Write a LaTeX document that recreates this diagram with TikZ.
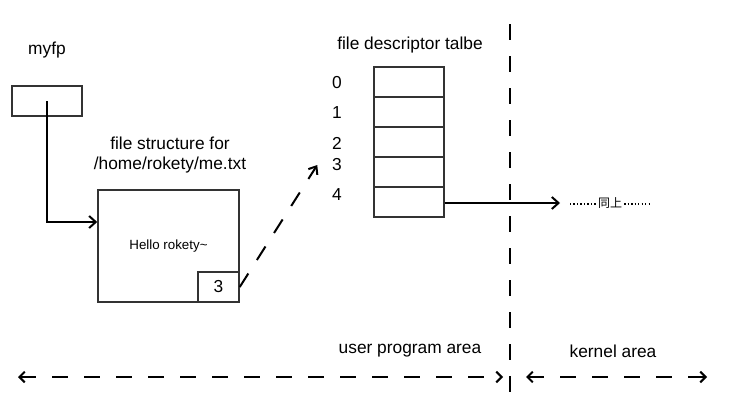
\documentclass[tikz,border=0pt]{standalone}
\usepackage{fontspec}
\setmainfont{Liberation Sans}
\newfontfamily\cjk{Noto Sans CJK SC}
\usetikzlibrary{arrows.meta}
\definecolor{boxgray}{HTML}{333333}
\begin{document}
\begin{tikzpicture}[x=0.75pt,y=-0.75pt,
  lbl/.style={font=\fontsize{13}{15}\selectfont, inner sep=0pt},
  box/.style={draw=boxgray, line width=1.1pt, fill=white, inner sep=0pt},
  arr/.style={line width=1.5pt, -{Straight Barb[length=5pt,width=9pt,line width=1.5pt]}},
  dash16/.style={line width=1.5pt, dash pattern=on 12pt off 12pt},
  darr/.style={dash16, {Straight Barb[length=4pt,width=8pt,line width=1.5pt]}-{Straight Barb[length=4pt,width=8pt,line width=1.5pt]}}
]
\useasboundingbox (0,0) rectangle (731,418);
% labels
\node[lbl] (myfp) at (47,50) {myfp};
\node[lbl, align=center] (fslabel) at (170,155) {file structure for\\/home/rokety/me.txt};
\node[lbl] (fdt) at (410,45) {file descriptor talbe};
\node[lbl] (upa) at (410,351) {user program area};
\node[lbl] (ka) at (613,351) {kernel area};
% myfp box
\node[box, minimum width=52.5pt, minimum height=22.5pt] (myfpbox) at (47,101) {};
% file structure box
\node[box, minimum width=105.75pt, minimum height=84pt, font=\fontsize{10}{12}\selectfont] (filebox) at (168.5,246) {Hello rokety\char`~};
\node[box, minimum width=30.75pt, minimum height=22.5pt, font=\fontsize{13}{15}\selectfont] (fd3) at (218.5,287) {3};
% table
\foreach \i/\y in {0/82,1/112,2/142,3/172,4/202}{
  \node[box, minimum width=52.5pt, minimum height=22.5pt] (r\i) at (409,\y) {};
}
\node[lbl] (n0) at (337,83) {0};
\node[lbl] (n1) at (337,113) {1};
\node[lbl] (n2) at (337,143) {2};
\node[lbl] (n3) at (337,165) {3};
\node[lbl] (n4) at (337,195) {4};
% 同上
\node[inner sep=0pt, font=\cjk\fontsize{9}{10}\selectfont] (same) at (610,203) {同上};
\coordinate (dl) at (570,204);
\coordinate (dr) at (650,204);
\draw[line width=1pt, dash pattern=on 1pt off 1.6pt] (dl) -- ([xshift=-1.5pt]same.west |- dl);
\draw[line width=1pt, dash pattern=on 1pt off 1.6pt] ([xshift=1.5pt]same.east |- dr) -- (dr);
% arrows
\draw[arr] (myfpbox.center) |- ([yshift=18pt]filebox.west);
\coordinate (tip) at (560,203);
\draw[arr] (r4.east |- tip) -- (tip);
\draw[dash16, -{Straight Barb[length=5pt,width=8pt,line width=1.5pt]}] (fd3.east) -- ([xshift=-11pt]n3.west);
% separators
\coordinate (vtop) at (510,24);
\coordinate (vbot) at (510,393);
\draw[dash16] (vtop) -- (vbot);
\coordinate (bl1) at (18,377);
\coordinate (br1) at (503,377);
\coordinate (bl2) at (526,377);
\coordinate (br2) at (707,377);
\draw[darr] (bl1) -- (br1);
\draw[darr] (bl2) -- (br2);
\end{tikzpicture}
\end{document}
